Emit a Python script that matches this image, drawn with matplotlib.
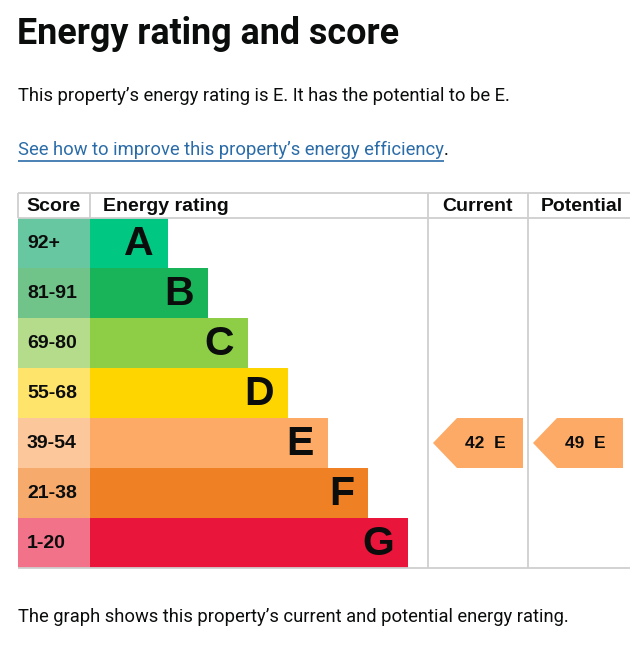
import matplotlib
matplotlib.use("Agg")
import matplotlib.pyplot as plt
from matplotlib.patches import Polygon

# --- data ---
ratings = ["A", "B", "C", "D", "E", "F", "G"]
score_ranges = ["92+", "81-91", "69-80", "55-68", "39-54", "21-38", "1-20"]
band_lengths = [78, 118, 158, 198, 238, 278, 318]
band_colors = ["#00c781", "#19b459", "#8dce46", "#ffd500", "#fcaa65", "#ef8023", "#e9153b"]
score_colors = ["#66c7a1", "#70c48a", "#b5dc8a", "#ffe46c", "#fdc79c", "#f6aa6c", "#f27289"]

current_score, current_rating = 42, "E"
potential_score, potential_rating = 49, "E"

title = "Energy rating and score"
summary = "This property\u2019s energy rating is E. It has the potential to be E."
link = "See how to improve this property\u2019s energy efficiency"
footer = "The graph shows this property\u2019s current and potential energy rating."

# --- layout (pixels) ---
W, H = 630, 650
left, score_w = 18, 72
bar_x0 = left + score_w
cur_x, pot_x, right = 428, 528, 630
top, head_h, row_h = 193, 25, 50
grid = "#cfcfcf"
body_font = "Roboto"
table_font = "Liberation Sans"

fig = plt.figure(figsize=(W / 100, H / 100), dpi=100)
ax = fig.add_axes([0, 0, 1, 1])
ax.set_xlim(0, W)
ax.set_ylim(H, 0)
ax.axis("off")

ax.text(left - 1, 34, title, fontsize=25.8, fontweight="bold", family=body_font,
        va="center", ha="left", color="#0b0c0c")
ax.text(left, 96, summary, fontsize=13.2, family=body_font, va="center", color="#0b0c0c")
link_txt = ax.text(left, 150, link, fontsize=13.2, family=body_font, va="center", color="#2b6ca8")
dot = ax.text(0, 150, ".", fontsize=13.2, family=body_font, va="center", color="#0b0c0c")
ax.text(left, 617, footer, fontsize=13.2, family=body_font, va="center", color="#0b0c0c")

# table rows
y0 = top + head_h
row_y = [y0 + row_h * i + row_h / 2 for i in range(len(ratings))]
ax.barh(row_y, [score_w] * len(ratings), left=left, height=row_h, color=score_colors)
ax.barh(row_y, band_lengths, left=bar_x0, height=row_h, color=band_colors)

for y, r, s, ln in zip(row_y, ratings, score_ranges, band_lengths):
    ax.text(left + 9, y, s, fontsize=14, fontweight="bold", family=table_font,
            va="center", ha="left", color="#0b0c0c")
    ax.text(bar_x0 + ln - 14, y + 1, r, fontsize=29.5, fontweight="bold", family=table_font,
            va="center", ha="right", color="#0b0c0c")

# header
hy = top + head_h / 2 + 1
for x, lab in [(left + 8, "Score"), (bar_x0 + 13, "Energy rating"),
               (cur_x + 14, "Current"), (pot_x + 13, "Potential")]:
    ax.text(x, hy, lab, fontsize=14, fontweight="bold", family=table_font,
            va="center", ha="left", color="#0b0c0c")

# grid lines
bottom = y0 + row_h * len(ratings)
ax.hlines([top, y0, bottom], left, right, color=grid, lw=1.3)
ax.vlines([left, bar_x0], top, y0, color=grid, lw=1.3)
ax.vlines([cur_x, pot_x], top, bottom, color=grid, lw=1.3)

# pointers
def pointer(col_x, score, rating):
    i = ratings.index(rating)
    yc = row_y[i]
    xl, xr, tip = col_x + 5, col_x + 95, 24
    pts = [(xl, yc), (xl + tip, yc - row_h / 2), (xr, yc - row_h / 2),
           (xr, yc + row_h / 2), (xl + tip, yc + row_h / 2)]
    ax.add_patch(Polygon(pts, closed=True, color=band_colors[i], lw=0))
    ax.text(col_x + 57, yc, f"{score}  {rating}", fontsize=12.5, fontweight="bold",
            family=table_font, va="center", ha="center", color="#0b0c0c")

pointer(cur_x, current_score, current_rating)
pointer(pot_x, potential_score, potential_rating)

# underline for the link
fig.canvas.draw()
bb = link_txt.get_window_extent().transformed(ax.transData.inverted())
x_end = max(bb.x0, bb.x1)
ax.hlines(161, left, x_end, color="#2b6ca8", lw=1.2)
dot.set_x(x_end)

fig.savefig("out.png", dpi=100)
